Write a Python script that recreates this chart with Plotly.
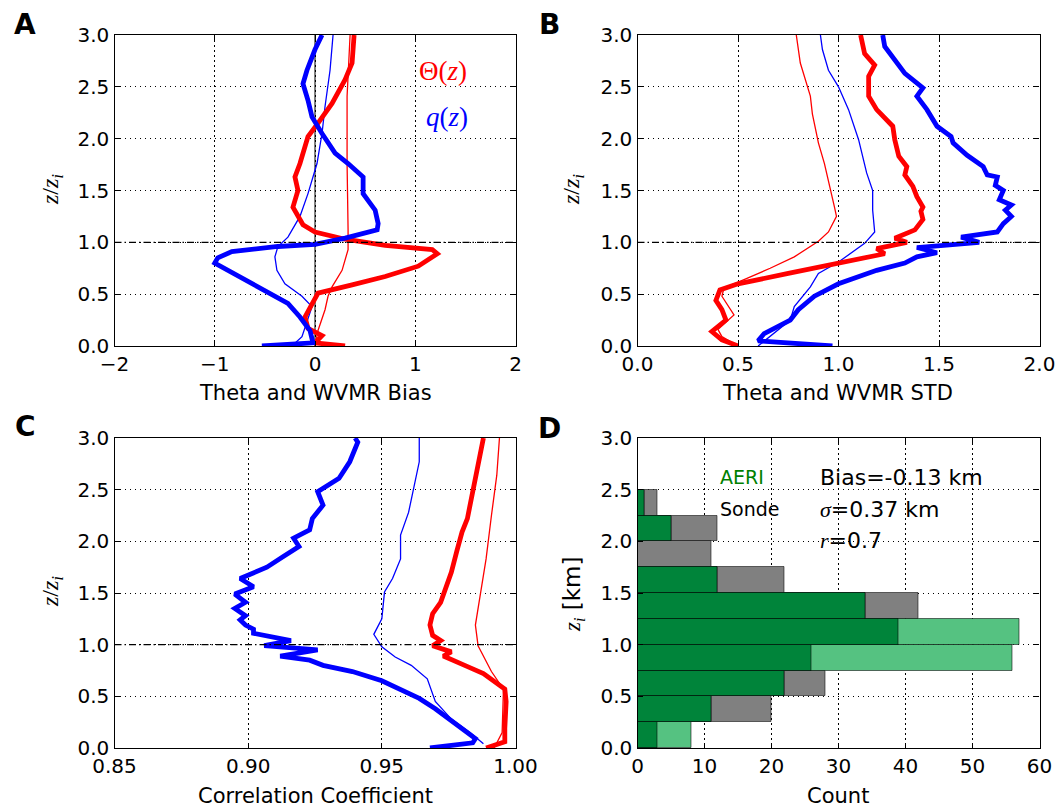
import numpy as np
import plotly.graph_objects as go

W, H = 1062, 808

# ---------------- Panel A: bias ----------------
a_theta_thick_z = [0.0, 0.03, 0.10, 0.17, 0.28, 0.41, 0.51, 0.59, 0.67, 0.77, 0.89, 0.93, 0.97, 1.03, 1.10, 1.17, 1.34, 1.50, 1.63, 1.76, 2.02, 2.15, 2.34, 2.57, 2.73, 3.0]
a_theta_thick = [0.30, 0.0, 0.07, -0.07, -0.10, -0.03, 0.03, 0.37, 0.70, 1.03, 1.22, 1.17, 0.70, 0.30, 0.0, -0.12, -0.22, -0.17, -0.20, -0.15, -0.07, 0.03, 0.17, 0.30, 0.37, 0.39]
a_theta_thin_z = [0.0, 0.15, 0.35, 0.48, 0.57, 0.73, 0.93, 1.12, 1.76, 2.41, 3.0]
a_theta_thin = [0.0, 0.03, 0.10, 0.13, 0.17, 0.27, 0.33, 0.33, 0.32, 0.32, 0.35]
a_q_thick_z = [0.0, 0.03, 0.15, 0.28, 0.41, 0.57, 0.70, 0.80, 0.85, 0.91, 0.96, 0.98, 1.04, 1.12, 1.18, 1.31, 1.47, 1.63, 1.76, 1.86, 2.05, 2.21, 2.37, 2.53, 2.66, 2.86, 3.0]
a_q_thick = [-0.53, -0.02, -0.05, -0.15, -0.27, -0.57, -0.83, -1.0, -0.97, -0.83, -0.37, 0.0, 0.30, 0.62, 0.63, 0.60, 0.48, 0.48, 0.33, 0.20, 0.07, -0.03, -0.07, -0.12, -0.08, 0.0, 0.07]
a_q_thin_z = [0.0, 0.09, 0.38, 0.48, 0.60, 0.73, 0.86, 0.96, 1.05, 1.25, 1.47, 1.76, 2.05, 2.31, 2.66, 3.0]
a_q_thin = [-0.23, -0.13, -0.03, -0.13, -0.30, -0.38, -0.40, -0.37, -0.27, -0.15, -0.07, 0.02, 0.07, 0.10, 0.15, 0.18]

# ---------------- Panel B: STD ----------------
b_theta_thick_z = [0.0, 0.06, 0.14, 0.19, 0.25, 0.35, 0.44, 0.54, 0.60, 0.70, 0.80, 0.89, 0.94, 1.0, 1.04, 1.12, 1.22, 1.30, 1.34, 1.44, 1.54, 1.65, 1.73, 1.83, 1.99, 2.12, 2.28, 2.41, 2.60, 2.71, 2.82, 3.0]
b_theta_thick = [0.50, 0.42, 0.37, 0.40, 0.44, 0.42, 0.39, 0.41, 0.50, 0.75, 1.0, 1.23, 1.19, 1.34, 1.28, 1.38, 1.42, 1.41, 1.42, 1.39, 1.37, 1.33, 1.34, 1.30, 1.28, 1.27, 1.19, 1.15, 1.15, 1.18, 1.13, 1.11]
b_theta_thin_z = [0.0, 0.09, 0.16, 0.30, 0.48, 0.56, 0.64, 0.75, 0.86, 1.01, 1.10, 1.25, 1.34, 1.60, 1.76, 1.96, 2.24, 2.41, 2.73, 3.0]
b_theta_thin = [0.50, 0.42, 0.40, 0.48, 0.42, 0.43, 0.53, 0.66, 0.78, 0.90, 0.95, 0.99, 0.98, 0.95, 0.93, 0.90, 0.87, 0.86, 0.81, 0.79]
b_q_thick_z = [0.0, 0.05, 0.12, 0.19, 0.25, 0.35, 0.48, 0.60, 0.73, 0.80, 0.86, 0.90, 0.95, 1.0, 1.05, 1.10, 1.18, 1.25, 1.31, 1.36, 1.41, 1.50, 1.55, 1.63, 1.65, 1.73, 1.84, 1.96, 2.02, 2.12, 2.28, 2.41, 2.49, 2.63, 2.76, 2.89, 3.0]
b_q_thick = [0.97, 0.60, 0.63, 0.70, 0.76, 0.80, 0.88, 1.0, 1.19, 1.33, 1.39, 1.49, 1.39, 1.70, 1.61, 1.79, 1.82, 1.86, 1.83, 1.86, 1.80, 1.82, 1.78, 1.79, 1.74, 1.72, 1.64, 1.57, 1.56, 1.49, 1.44, 1.39, 1.42, 1.33, 1.28, 1.23, 1.22]
b_q_thin_z = [0.0, 0.25, 0.38, 0.57, 0.70, 0.81, 0.99, 1.10, 1.31, 1.50, 1.67, 1.99, 2.28, 2.50, 2.66, 2.86, 3.0]
b_q_thin = [0.60, 0.76, 0.78, 0.86, 0.90, 1.0, 1.13, 1.18, 1.17, 1.17, 1.14, 1.10, 1.05, 1.0, 0.95, 0.92, 0.91]

# ---------------- Panel C: correlation ----------------
c_q_thick_z = [0.0, 0.05, 0.09, 0.17, 0.27, 0.38, 0.48, 0.57, 0.65, 0.74, 0.80, 0.85, 0.89, 0.95, 0.99, 1.04, 1.11, 1.15, 1.19, 1.24, 1.28, 1.35, 1.41, 1.49, 1.56, 1.64, 1.75, 1.85, 1.95, 2.03, 2.11, 2.22, 2.35, 2.48, 2.61, 2.77, 2.96, 3.0]
c_q_thick = [0.968, 0.984, 0.985, 0.981, 0.976, 0.970, 0.964, 0.957, 0.950, 0.939, 0.928, 0.923, 0.912, 0.926, 0.906, 0.916, 0.902, 0.902, 0.899, 0.897, 0.899, 0.895, 0.899, 0.895, 0.902, 0.897, 0.907, 0.913, 0.919, 0.917, 0.923, 0.924, 0.928, 0.926, 0.934, 0.938, 0.941, 0.940]
c_q_thin_z = [0.04, 0.15, 0.28, 0.45, 0.67, 0.80, 0.88, 0.98, 1.10, 1.25, 1.51, 1.64, 1.83, 2.06, 2.28, 2.51, 2.77, 3.0]
c_q_thin = [0.988, 0.983, 0.976, 0.970, 0.967, 0.961, 0.955, 0.950, 0.947, 0.950, 0.951, 0.954, 0.957, 0.957, 0.960, 0.962, 0.964, 0.964]
c_theta_thick_z = [0.0, 0.06, 0.19, 0.45, 0.57, 0.72, 0.80, 0.89, 0.93, 0.96, 0.99, 1.04, 1.09, 1.19, 1.30, 1.41, 1.48, 1.57, 1.70, 1.90, 2.09, 2.22, 2.48, 2.74, 3.0]
c_theta_thick = [0.989, 0.996, 0.996, 0.9965, 0.996, 0.988, 0.981, 0.973, 0.976, 0.973, 0.969, 0.972, 0.969, 0.968, 0.969, 0.972, 0.973, 0.974, 0.976, 0.978, 0.980, 0.982, 0.984, 0.986, 0.988]
c_theta_thin_z = [0.0, 0.15, 0.57, 0.74, 0.99, 1.19, 1.51, 1.83, 2.25, 2.64, 3.0]
c_theta_thin = [0.992, 0.995, 0.9955, 0.991, 0.986, 0.985, 0.987, 0.989, 0.991, 0.993, 0.994]

# ---------------- Panel D: histogram of z_i ----------------
zi_bin_lower = [0.0, 0.25, 0.5, 0.75, 1.0, 1.25, 1.5, 1.75, 2.0, 2.25]
zi_bin_width = 0.25
aeri_counts = [8, 11, 22, 56, 57, 34, 12, 0, 5, 1]
sonde_counts = [3, 20, 28, 26, 39, 42, 22, 11, 12, 3]

y_ticks = [0.0, 0.5, 1.0, 1.5, 2.0, 2.5, 3.0]
xA_ticks = [-2, -1, 0, 1, 2]
xB_ticks = [0.0, 0.5, 1.0, 1.5, 2.0]
xC_ticks = [0.85, 0.90, 0.95, 1.00]
xD_ticks = [0, 10, 20, 30, 40, 50, 60]

RED = "#ff0000"
BLUE = "#0000ff"
THICK = 4.8
THIN = 1.3
FONT = "DejaVu Sans"
SERIF = "Liberation Serif"


def fx(x):
    return x / W


def fy(y):
    return 1 - y / H


fig = go.Figure()


def line(xs, zs, color, width, ax):
    fig.add_trace(go.Scatter(x=xs, y=zs, mode="lines",
                             line=dict(color=color, width=width),
                             xaxis="x" + ax, yaxis="y" + ax,
                             showlegend=False, hoverinfo="skip"))


# A
line(a_theta_thin, a_theta_thin_z, RED, THIN, "")
line(a_q_thin, a_q_thin_z, BLUE, THIN, "")
line(a_theta_thick, a_theta_thick_z, RED, THICK, "")
line(a_q_thick, a_q_thick_z, BLUE, THICK, "")
# B
line(b_theta_thin, b_theta_thin_z, RED, THIN, "2")
line(b_q_thin, b_q_thin_z, BLUE, THIN, "2")
line(b_theta_thick, b_theta_thick_z, RED, THICK, "2")
line(b_q_thick, b_q_thick_z, BLUE, THICK, "2")
# C
line(c_theta_thin, c_theta_thin_z, RED, THIN, "3")
line(c_q_thin, c_q_thin_z, BLUE, THIN, "3")
line(c_theta_thick, c_theta_thick_z, RED, THICK, "3")
line(c_q_thick, c_q_thick_z, BLUE, THICK, "3")

# D histogram
centers = np.array(zi_bin_lower) + zi_bin_width / 2
overlap = np.minimum(aeri_counts, sonde_counts)
edge = dict(color="rgba(0,0,0,0.55)", width=1)
fig.add_trace(go.Bar(x=sonde_counts, y=centers, orientation="h", width=zi_bin_width,
                     marker=dict(color="#808080", line=edge),
                     xaxis="x4", yaxis="y4", showlegend=False, hoverinfo="skip"))
fig.add_trace(go.Bar(x=aeri_counts, y=centers, orientation="h", width=zi_bin_width,
                     marker=dict(color="#55c281", line=edge),
                     xaxis="x4", yaxis="y4", showlegend=False, hoverinfo="skip"))
fig.add_trace(go.Bar(x=overlap, y=centers, orientation="h", width=zi_bin_width,
                     marker=dict(color="#00843a", line=edge),
                     xaxis="x4", yaxis="y4", showlegend=False, hoverinfo="skip"))

xL = [fx(114.5), fx(515.5)]
xR = [fx(637.5), fx(1039.5)]
yT = [fy(346), fy(35)]
yB = [fy(748), fy(438)]

GRIDDASH = "1.5px,3.5px"


def axis_style(**kw):
    d = dict(showline=True, linecolor="black", linewidth=1.3, mirror="ticks",
             ticks="inside", ticklen=5, tickwidth=1, tickcolor="black",
             showgrid=True, gridcolor="black", gridwidth=1, griddash=GRIDDASH,
             zeroline=False, tickfont=dict(family=FONT, size=20, color="black"),
             automargin=False, fixedrange=True)
    d.update(kw)
    return d


layout = dict(
    width=W, height=H, margin=dict(l=0, r=0, t=0, b=0),
    paper_bgcolor="white", plot_bgcolor="white", barmode="overlay", bargap=0,
    xaxis=axis_style(domain=xL, anchor="y", range=[-2, 2], tickvals=xA_ticks),
    yaxis=axis_style(domain=yT, anchor="x", range=[0, 3], tickvals=y_ticks, tickformat=".1f"),
    xaxis2=axis_style(domain=xR, anchor="y2", range=[0, 2], tickvals=xB_ticks, tickformat=".1f"),
    yaxis2=axis_style(domain=yT, anchor="x2", range=[0, 3], tickvals=y_ticks, tickformat=".1f"),
    xaxis3=axis_style(domain=xL, anchor="y3", range=[0.85, 1.0], tickvals=xC_ticks, tickformat=".2f"),
    yaxis3=axis_style(domain=yB, anchor="x3", range=[0, 3], tickvals=y_ticks, tickformat=".1f"),
    xaxis4=axis_style(domain=xR, anchor="y4", range=[0, 60], tickvals=xD_ticks, layer="above traces"),
    yaxis4=axis_style(domain=yB, anchor="x4", range=[0, 3], tickvals=y_ticks, tickformat=".1f", layer="above traces"),
)
fig.update_layout(**layout)

# reference lines
for ax in ["", "2", "3"]:
    fig.add_shape(type="line", xref="x" + ax + " domain", x0=0, x1=1,
                  yref="y" + ax, y0=1, y1=1,
                  line=dict(color="black", width=1.3, dash="7px,3px,1.5px,3px"))
fig.add_shape(type="line", xref="x", x0=0, x1=0, yref="y domain", y0=0, y1=1,
              line=dict(color="black", width=1), layer="below")

ann = []


def text(x, y, s, size=20, color="black", family=FONT, angle=0, xanchor="center"):
    ann.append(dict(x=fx(x), y=fy(y), xref="paper", yref="paper", text=s,
                    showarrow=False, textangle=angle, xanchor=xanchor, yanchor="middle",
                    font=dict(family=family, size=size, color=color)))


# panel letters
for (px_, py_, s) in [(25, 24, "A"), (549, 24, "B"), (25, 426, "C"), (549, 428, "D")]:
    text(px_, py_, "<b>%s</b>" % s, size=28)

# axis titles
text(315, 393, "Theta and WVMR Bias", size=21)
text(837, 393, "Theta and WVMR STD", size=21)
text(315, 796, "Correlation Coefficient", size=21)
text(838, 796, "Count", size=21)
zz = "<i>z</i>/<i>z<sub>i</sub></i>"
text(52, 190, zz, size=24, family=SERIF, angle=-90)
text(573, 190, zz, size=24, family=SERIF, angle=-90)
text(52, 592, zz, size=24, family=SERIF, angle=-90)
text(573, 595, "<span style='font-family:Liberation Serif'><i>z<sub>i</sub></i></span> [km]", size=23, angle=-90)

# legend-like labels in A
text(443, 71, "Θ(<i>z</i>)", size=27, color=RED, family=SERIF)
text(447, 117, "<i>q</i>(<i>z</i>)", size=27, color=BLUE, family=SERIF)

# panel D texts
text(718, 477, "AERI", size=19, color="#008000", xanchor="left")
text(718, 509, "Sonde", size=19, xanchor="left")
text(818, 477, "Bias=-0.13 km", size=22, xanchor="left")
text(818, 509, "<span style='font-family:Liberation Serif'><i>σ</i></span>=0.37 km", size=22, xanchor="left")
text(818, 540, "<span style='font-family:Liberation Serif'><i>r</i></span>=0.7", size=22, xanchor="left")

fig.update_layout(annotations=ann)
fig.write_html("out.html")
